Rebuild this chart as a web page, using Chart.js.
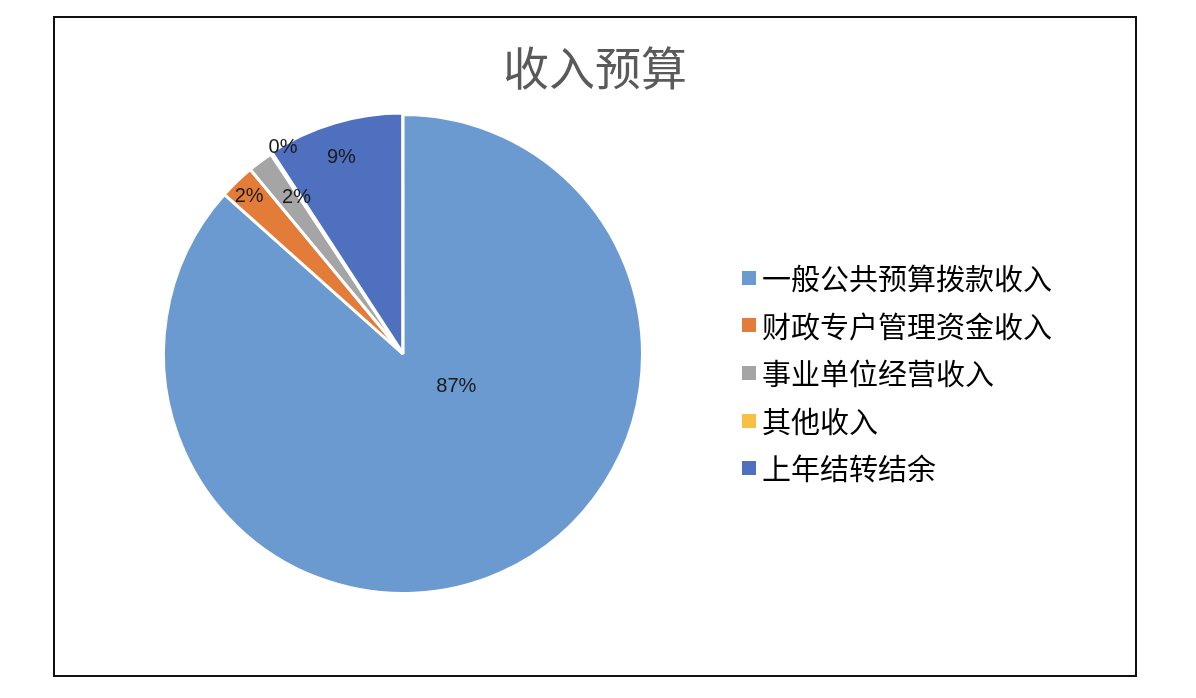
<!DOCTYPE html>
<html>
<head>
<meta charset="utf-8">
<script src="https://cdn.jsdelivr.net/npm/chart.js@4/dist/chart.umd.min.js"></script>
<style>
  html, body { margin:0; padding:0; background:#fff; overflow:hidden; }
  #wrap { position:relative; width:1196px; height:698px; }
  #c { position:absolute; left:0; top:0; }
  #frame { position:absolute; left:53px; top:16px; width:1084px; height:661px; box-sizing:border-box; border:2px solid #111; pointer-events:none; }
  #title { position:absolute; left:53px; width:1084px; top:42px; height:46px; line-height:46px; text-align:center;
           font-family:"Noto Sans CJK SC","Noto Sans",sans-serif; font-size:46px; color:#5a5a5a; white-space:nowrap; }
  #legend { position:absolute; left:742px; top:254px; font-family:"Noto Sans CJK SC","Noto Sans",sans-serif; font-size:29px; color:#000; }
  .item { height:47.6px; line-height:47.6px; white-space:nowrap; display:flex; align-items:center; }
  .sw { width:14px; height:14px; margin-right:6px; flex:none; }
</style>
</head>
<body>
<div id="wrap">
  <canvas id="c" width="1196" height="698"></canvas>
  <div id="frame"></div>
  <div id="title"></div>
  <div id="legend"></div>
</div>
<script>
const TITLE = "收入预算";
const categories = ["一般公共预算拨款收入", "财政专户管理资金收入", "事业单位经营收入", "其他收入", "上年结转结余"];
const shares = [86.6, 2.4, 1.7, 0.1, 9.2];
const colors = ["#6A9AD0", "#E27C38", "#A5A5A5", "#F6C142", "#4E70BE"];

document.getElementById('title').textContent = TITLE;
const lg = document.getElementById('legend');
categories.forEach((name, i) => {
  const row = document.createElement('div');
  row.className = 'item';
  const sw = document.createElement('span');
  sw.className = 'sw';
  sw.style.background = colors[i];
  const tx = document.createElement('span');
  tx.textContent = name;
  row.appendChild(sw); row.appendChild(tx);
  lg.appendChild(row);
});

const labelPlugin = {
  id: 'sliceLabels',
  afterDatasetsDraw(chart, args, opts) {
    const ctx = chart.ctx;
    const meta = chart.getDatasetMeta(0);
    const data = chart.data.datasets[0].data;
    const total = data.reduce((a, b) => a + b, 0);
    ctx.save();
    ctx.font = opts.font;
    ctx.fillStyle = opts.color;
    ctx.textAlign = 'center';
    ctx.textBaseline = 'middle';
    meta.data.forEach((arc, i) => {
      const p = arc.getProps(['x', 'y', 'startAngle', 'endAngle', 'outerRadius'], true);
      const mid = (p.startAngle + p.endAngle) / 2 + opts.shiftDeg[i] * Math.PI / 180;
      const r = p.outerRadius * opts.radiusFrac[i];
      const x = p.x + Math.cos(mid) * r;
      const y = p.y + Math.sin(mid) * r;
      const pct = Math.round(data[i] / total * 100) + '%';
      ctx.fillText(pct, x, y);
    });
    ctx.restore();
  }
};

new Chart(document.getElementById('c'), {
  type: 'pie',
  data: {
    labels: categories,
    datasets: [{
      data: shares,
      backgroundColor: colors,
      borderColor: '#ffffff',
      borderWidth: 3,
      offset: [0, 0, 0, 0, 4]
    }]
  },
  options: {
    responsive: false,
    animation: false,
    radius: 239.5,
    layout: { padding: { left: 100, right: 490, top: 100, bottom: 90 } },
    plugins: {
      legend: { display: false },
      title: { display: false },
      tooltip: { enabled: false },
      sliceLabels: {
        font: '20px "Liberation Sans", Arial, sans-serif',
        color: '#1a1a1a',
        shiftDeg: [-34.8, -0.5, 2.3, 3.1, -0.85],
        radiusFrac: [0.26, 0.918, 0.79, 0.996, 0.86]
      }
    }
  },
  plugins: [labelPlugin]
});
</script>
</body>
</html>
